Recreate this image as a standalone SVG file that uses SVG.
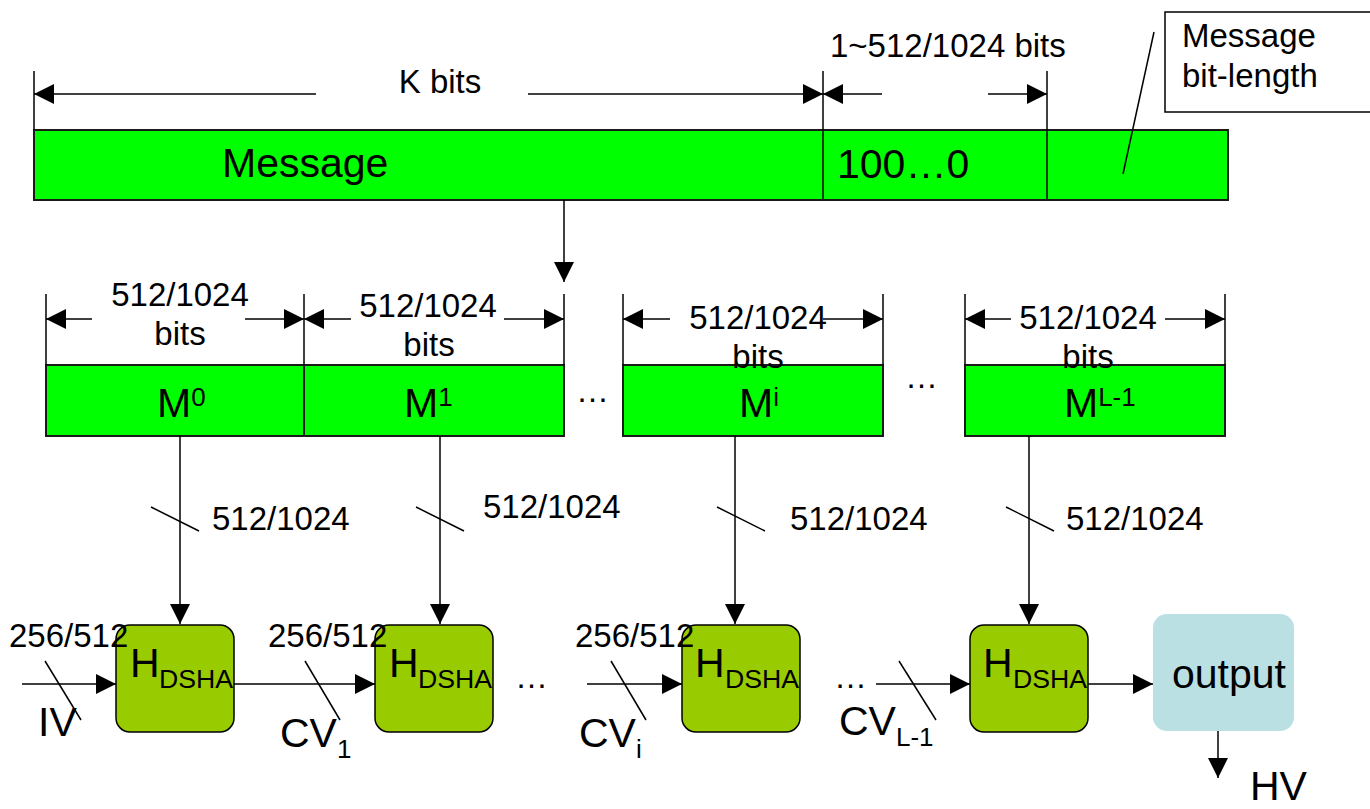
<svg xmlns="http://www.w3.org/2000/svg" width="1370" height="809" viewBox="0 0 1370 809">
<defs>
<marker id="ah" markerUnits="userSpaceOnUse" markerWidth="20" markerHeight="20" refX="20" refY="10" orient="auto">
<path d="M0,0 L20,10 L0,20 z" fill="#000"/>
</marker>
<style>
.bar{fill:#00ff00;stroke:#1a1a1a;stroke-width:2}
.hb{fill:#99cc00;stroke:#000;stroke-width:1.5}
.out{fill:#bbe0e4;stroke:none}
.note{fill:#fff;stroke:#000;stroke-width:1.5}
.ln{stroke:#000;stroke-width:1.5;fill:none}
.ar{stroke:#000;stroke-width:1.5;fill:none;marker-end:url(#ah)}
.t{font-family:"Liberation Sans",Arial,sans-serif;fill:#000}
.big{font-size:41px}
.med{font-size:33px}
.sub{font-size:26px}
</style>
</defs>

<g id="message-bar">
<rect class="bar" x="34" y="130" width="1194" height="70"/>
<line class="ln" x1="823" y1="130" x2="823" y2="200"/>
<line class="ln" x1="1047" y1="130" x2="1047" y2="200"/>
<text class="t big" x="222" y="177">Message</text>
<text class="t big" x="837" y="178">100…0</text>
</g>

<g id="bitlength-note">
<rect class="note" x="1165" y="12" width="215" height="100"/>
<text class="t med" x="1182" y="47">Message</text>
<text class="t med" x="1182" y="87">bit-length</text>
<line class="ln" x1="1154" y1="32" x2="1123" y2="174"/>
</g>

<g id="dimensions-top">
<line class="ln" x1="34" y1="71" x2="34" y2="130"/>
<line class="ln" x1="823" y1="71" x2="823" y2="130"/>
<line class="ln" x1="1047" y1="71" x2="1047" y2="130"/>
<line class="ar" x1="316" y1="94" x2="34" y2="94"/>
<line class="ar" x1="528" y1="94" x2="823" y2="94"/>
<text class="t med" x="440" y="93" text-anchor="middle">K bits</text>
<line class="ar" x1="882" y1="94" x2="823" y2="94"/>
<line class="ar" x1="988" y1="94" x2="1047" y2="94"/>
<text class="t med" x="830" y="57">1~512/1024 bits</text>
</g>

<g id="block-M0">
<rect class="bar" x="46" y="365" width="258" height="71"/>
<text class="t big" x="157" y="417">M<tspan class="sub" dy="-11">0</tspan></text>
</g>
<g id="block-M1">
<rect class="bar" x="304" y="365" width="260" height="71"/>
<text class="t big" x="404" y="417">M<tspan class="sub" dy="-11">1</tspan></text>
</g>
<g id="block-Mi">
<rect class="bar" x="623" y="365" width="260" height="71"/>
<text class="t big" x="739" y="417">M<tspan class="sub" dy="-11">i</tspan></text>
</g>
<g id="block-ML-1">
<rect class="bar" x="965" y="365" width="260" height="71"/>
<text class="t big" x="1064" y="417">M<tspan class="sub" dy="-11">L-1</tspan></text>
</g>
<text class="t med" x="576" y="402">…</text>
<text class="t med" x="905" y="388">…</text>

<g id="dimensions-blocks">
<line class="ln" x1="46" y1="294" x2="46" y2="365"/>
<line class="ln" x1="304" y1="294" x2="304" y2="365"/>
<line class="ln" x1="564" y1="294" x2="564" y2="365"/>
<line class="ln" x1="623" y1="294" x2="623" y2="365"/>
<line class="ln" x1="883" y1="294" x2="883" y2="365"/>
<line class="ln" x1="965" y1="294" x2="965" y2="365"/>
<line class="ln" x1="1225" y1="294" x2="1225" y2="365"/>
<line class="ar" x1="92" y1="319" x2="46" y2="319"/>
<line class="ar" x1="245" y1="319" x2="304" y2="319"/>
<line class="ar" x1="351" y1="319" x2="304" y2="319"/>
<line class="ar" x1="504" y1="319" x2="564" y2="319"/>
<line class="ar" x1="670" y1="319" x2="623" y2="319"/>
<line class="ar" x1="823" y1="319" x2="883" y2="319"/>
<line class="ar" x1="1011" y1="319" x2="965" y2="319"/>
<line class="ar" x1="1165" y1="319" x2="1225" y2="319"/>
<text class="t med" x="180" y="306" text-anchor="middle">512/1024</text>
<text class="t med" x="180" y="345" text-anchor="middle">bits</text>
<text class="t med" x="428" y="317" text-anchor="middle">512/1024</text>
<text class="t med" x="429" y="356" text-anchor="middle">bits</text>
<text class="t med" x="758" y="329" text-anchor="middle">512/1024</text>
<text class="t med" x="758" y="368" text-anchor="middle">bits</text>
<text class="t med" x="1088" y="329" text-anchor="middle">512/1024</text>
<text class="t med" x="1088" y="368" text-anchor="middle">bits</text>
</g>

<g id="H1">
<rect class="hb" x="116" y="625" width="118" height="107" rx="14" ry="14"/>
<text class="t big" x="130" y="677">H</text>
<text class="t sub" x="159" y="688" textLength="74" lengthAdjust="spacingAndGlyphs">DSHA</text>
</g>
<g id="H2">
<rect class="hb" x="375" y="625" width="118" height="107" rx="14" ry="14"/>
<text class="t big" x="389" y="677">H</text>
<text class="t sub" x="418" y="688" textLength="74" lengthAdjust="spacingAndGlyphs">DSHA</text>
</g>
<g id="H3">
<rect class="hb" x="682" y="625" width="118" height="107" rx="14" ry="14"/>
<text class="t big" x="695" y="677">H</text>
<text class="t sub" x="725" y="688" textLength="74" lengthAdjust="spacingAndGlyphs">DSHA</text>
</g>
<g id="H4">
<rect class="hb" x="970" y="625" width="118" height="107" rx="14" ry="14"/>
<text class="t big" x="983" y="677">H</text>
<text class="t sub" x="1013" y="688" textLength="74" lengthAdjust="spacingAndGlyphs">DSHA</text>
</g>
<g id="output">
<rect class="out" x="1153" y="614" width="141" height="117" rx="14" ry="14"/>
<text class="t big" x="1229" y="688" text-anchor="middle">output</text>
</g>

<g id="connectors">
<line class="ar" x1="564" y1="200" x2="564" y2="282"/>
<line class="ar" x1="180" y1="436" x2="180" y2="624"/>
<line class="ar" x1="440" y1="436" x2="440" y2="624"/>
<line class="ar" x1="735" y1="436" x2="735" y2="624"/>
<line class="ar" x1="1029" y1="436" x2="1029" y2="624"/>
<line class="ln" x1="151" y1="507" x2="199" y2="531"/>
<line class="ln" x1="416" y1="507" x2="464" y2="531"/>
<line class="ln" x1="717" y1="507" x2="765" y2="531"/>
<line class="ln" x1="1006" y1="507" x2="1054" y2="531"/>
<text class="t med" x="212" y="530">512/1024</text>
<text class="t med" x="483" y="518">512/1024</text>
<text class="t med" x="790" y="530">512/1024</text>
<text class="t med" x="1066" y="530">512/1024</text>

<line class="ar" x1="22" y1="684" x2="116" y2="684"/>
<line class="ln" x1="45" y1="661" x2="81" y2="720"/>
<text class="t med" x="9" y="647">256/512</text>
<text class="t big" x="38" y="736">IV</text>

<line class="ar" x1="234" y1="684" x2="375" y2="684"/>
<line class="ln" x1="305" y1="661" x2="340" y2="720"/>
<text class="t med" x="268" y="647">256/512</text>
<text class="t big" x="280" y="747">CV<tspan class="sub" dy="11">1</tspan></text>

<text class="t med" x="515" y="688">…</text>

<line class="ar" x1="587" y1="684" x2="682" y2="684"/>
<line class="ln" x1="611" y1="661" x2="646" y2="720"/>
<text class="t med" x="575" y="647">256/512</text>
<text class="t big" x="579" y="747">CV<tspan class="sub" dy="11">i</tspan></text>

<text class="t med" x="834" y="688">…</text>

<line class="ar" x1="876" y1="684" x2="970" y2="684"/>
<line class="ln" x1="899" y1="661" x2="936" y2="720"/>
<text class="t big" x="839" y="735">CV<tspan class="sub" dy="11">L-1</tspan></text>

<line class="ar" x1="1088" y1="684" x2="1153" y2="684"/>
<line class="ar" x1="1218" y1="731" x2="1218" y2="778"/>
<text class="t big" x="1250" y="800">HV</text>
</g>
</svg>
